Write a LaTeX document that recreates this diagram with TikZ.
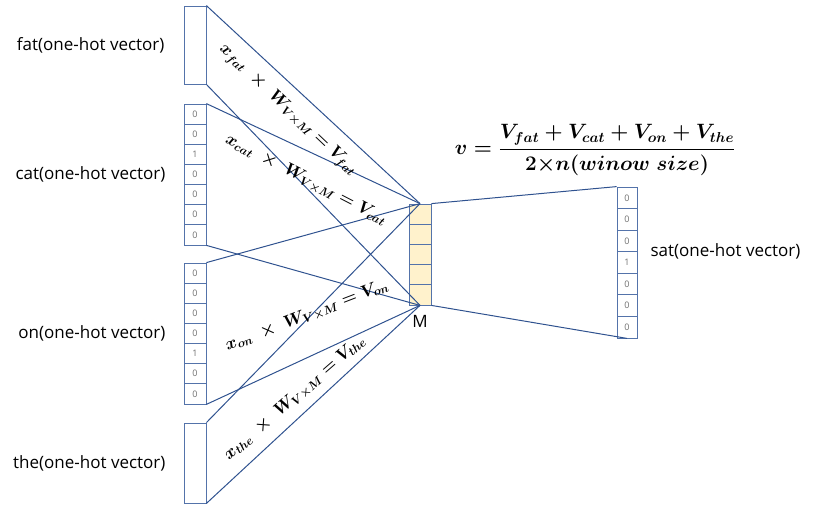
\documentclass[tikz,border=0pt]{standalone}
\usepackage{amsmath}
\usepackage[no-math]{fontspec}
\newfontfamily\lblfont{Open Sans}
\usetikzlibrary{positioning}
\definecolor{linkblue}{RGB}{47, 82, 143}
\definecolor{cellblue}{RGB}{84, 115, 170}
\definecolor{hidfill}{RGB}{255, 242, 204}
\definecolor{digitgray}{RGB}{110, 110, 110}

\begin{document}
\begin{tikzpicture}[x=1pt, y=-1pt,
  cell/.style={draw=cellblue, line width=0.8pt, minimum width=22pt, minimum height=20.14pt, inner sep=0pt, font=\lblfont\fontsize{9}{9}\selectfont, text=digitgray},
  hcell/.style={cell, fill=hidfill, minimum height=20.2pt},
  blank/.style={draw=cellblue, line width=0.8pt, minimum width=22pt, inner sep=0pt},
  lbl/.style={font=\lblfont\fontsize{17}{20}\selectfont, inner sep=1pt},
  eq/.style={font=\fontsize{18}{21}\selectfont\boldmath},
  link/.style={draw=linkblue, line width=1pt}]
  \useasboundingbox (0,0) rectangle (825,517);

  % input words
  \node[blank, minimum height=78pt] (fat) at (195,45) {};
  \foreach \v [count=\i] in {0,0,1,0,0,0,0}
    \node[cell] (cat\i) at (195,{104+20.14*(\i-0.5)}) {\v};
  \foreach \v [count=\i] in {0,0,0,0,1,0,0}
    \node[cell] (on\i) at (195,{263+20.14*(\i-0.5)}) {\v};
  \node[blank, minimum height=80pt] (the) at (195,463) {};

  % hidden layer
  \foreach \i in {1,...,5}
    \node[hcell] (M\i) at (420,{204+20.2*(\i-0.5)}) {};

  % output word
  \foreach \v [count=\i] in {0,0,0,1,0,0,0}
    \node[cell, minimum width=20pt, minimum height=21.57pt] (sat\i) at (627,{187+21.57*(\i-0.5)}) {\v};

  % links
  \draw[link] (fat.north east) -- (M1.north);
  \draw[link] (fat.south east) -- (M5.south);
  \draw[link] (cat1.north east) -- (M1.north);
  \draw[link] (cat7.south east) -- (M5.south);
  \draw[link] (on1.north east) -- (M1.north);
  \draw[link] (on7.south east) -- (M5.south);
  \draw[link] (the.north east) -- (M1.north);
  \draw[link] (the.south east) -- (M5.south);
  \draw[link] (M1.north east) -- (sat1.north west);
  \draw[link] (M5.south east) -- (sat7.south);

  % labels
  \node[lbl, left=18pt of fat] (tfat) {fat(one-hot vector)};
  \node[lbl, left=17pt of cat4] (tcat) {cat(one-hot vector)};
  \node[lbl, left=17pt of on4] (ton) {on(one-hot vector)};
  \node[lbl, left=17pt of the] (tthe) {the(one-hot vector)};
  \node[lbl, right=12pt of sat4.north east] (tsat) {sat(one-hot vector)};
  \node[lbl, below=9pt of M5] (tM) {M};

  % products
  \node[eq, rotate=-43.5] (eqfat) at (288,110) {$x_{fat}\;\times\;W_{V\times M}=V_{fat}$};
  \node[eq, rotate=-27.3] (eqcat) at (306,180) {$x_{cat}\;\times\;W_{V\times M}=V_{cat}$};
  \node[eq, rotate=21] (eqon) at (307,316) {$x_{on}\;\times\;W_{V\times M}=V_{on}$};
  \node[eq, rotate=41] (eqthe) at (295,398) {$x_{the}\;\times\;W_{V\times M}=V_{the}$};

  % average
  \node[eq, font=\fontsize{21}{25}\selectfont\boldmath] (avg) at (595,150)
    {$v=\dfrac{V_{fat}+V_{cat}+V_{on}+V_{the}}{2{\times}n(winow\ size)}$};
\end{tikzpicture}
\end{document}
